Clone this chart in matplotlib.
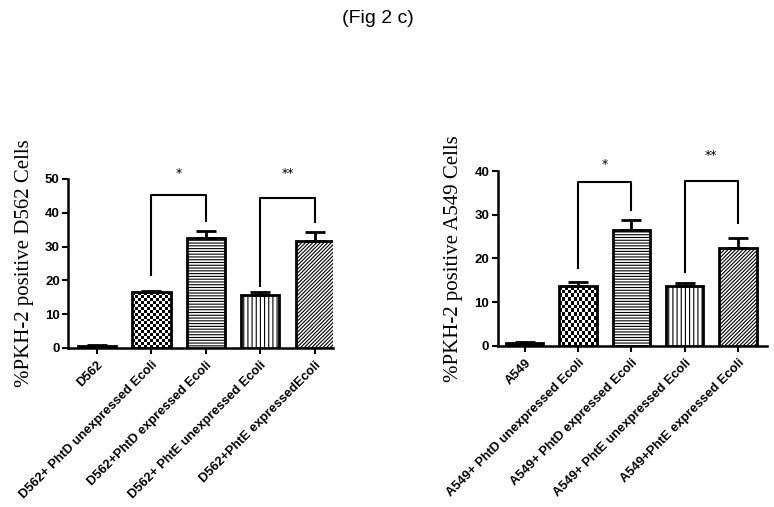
import numpy as np
import matplotlib
matplotlib.use("Agg")
import matplotlib.pyplot as plt

# data
d562_labels = ["D562", "D562+ PhtD unexpressed Ecoli", "D562+PhtD expressed Ecoli",
               "D562+ PhtE unexpressed Ecoli", "D562+PhtE expressedEcoli"]
d562_means = [0.5, 16.4, 32.4, 15.5, 31.7]
d562_err = [0.3, 0.5, 2.1, 1.0, 2.7]

a549_labels = ["A549", "A549+ PhtD unexpressed Ecoli", "A549+ PhtD expressed Ecoli",
               "A549+ PhtE unexpressed Ecoli", "A549+PhtE expressed Ecoli"]
a549_means = [0.7, 13.7, 26.5, 13.7, 22.3]
a549_err = [0.2, 0.8, 2.3, 0.7, 2.3]

# significance brackets: (left bar, right bar, left leg bottom, top, right leg bottom, text, text y)
d562_sig = [(1, 2, 21.6, 45.3, 37.7, "*", 51.5), (3, 4, 18.4, 44.3, 37.4, "**", 51.5)]
a549_sig = [(1, 2, 17.8, 37.5, 31.1, "*", 41.5), (3, 4, 16.9, 37.7, 28.0, "**", 43.5)]

hatches = [None, "checker", "------", "||||", "/////////"]

plt.rcParams['hatch.linewidth'] = 0.8

fig = plt.figure(figsize=(7.74, 5.07), dpi=100)
fig.text(0.488, 0.963, "(Fig 2 c)", ha="center", va="center", fontsize=14,
         family="Liberation Sans")


def checker_fill(ax, bar):
    x0, y0 = bar.get_x(), bar.get_y()
    w, h = bar.get_width(), bar.get_height()
    cols = 13
    rows = max(1, int(round(h * 3.37 / 2.9)))
    grid = (np.indices((rows, cols)).sum(axis=0) % 2).astype(float)
    im = ax.imshow(grid, cmap="gray", extent=(x0, x0 + w, y0, y0 + h),
                   aspect="auto", interpolation="nearest", zorder=2)
    im.set_clip_path(bar)


def draw_panel(ax, labels, means, err, sig, ymax, ystep, ylabel, xlim):
    x = np.arange(len(labels))
    bars = ax.bar(x, means, width=0.7, color="white", edgecolor="black",
                  linewidth=2, zorder=3)
    bars[0].set_facecolor("black")
    for b, h in zip(bars, hatches):
        if h == "checker":
            b.set_facecolor("none")
            checker_fill(ax, b)
        elif h:
            b.set_hatch(h)
    ax.errorbar(x, means, yerr=[np.zeros(len(err)), err], fmt="none",
                ecolor="black", elinewidth=2, capsize=7, capthick=2, zorder=4)
    for i, j, lb, top, rb, txt, ty in sig:
        ax.plot([x[i], x[i], x[j], x[j]], [lb, top, top, rb], color="black",
                lw=1.5, clip_on=False, zorder=5)
        ax.text((x[i] + x[j]) / 2, ty, txt, ha="center", va="center",
                fontsize=9, clip_on=False)
    ax.set_ylim(0, ymax)
    ax.set_xlim(*xlim)
    ax.set_yticks(np.arange(0, ymax + 1, ystep))
    ax.set_xticks(x)
    ax.set_xticklabels(labels, rotation=45, ha="right", rotation_mode="anchor",
                       fontsize=9.3, fontweight="bold", family="Liberation Sans")
    for t in ax.get_yticklabels():
        t.set_fontweight("bold")
        t.set_family("Liberation Sans")
        t.set_fontsize(9.5)
    ax.spines["top"].set_visible(False)
    ax.spines["right"].set_visible(False)
    ax.spines["left"].set_linewidth(1.8)
    ax.spines["bottom"].set_linewidth(1.8)
    ax.tick_params(width=1.5, length=4, pad=2)
    ax.tick_params(axis="x", pad=4)
    ax.set_ylabel(ylabel, family="Liberation Serif", fontsize=15, labelpad=8)


ax1 = fig.add_axes([0.088, 0.314, 0.342, 0.333])
draw_panel(ax1, d562_labels, d562_means, d562_err, d562_sig, 50, 10,
           "%PKH-2 positive D562 Cells", (-0.53, 4.33))

ax2 = fig.add_axes([0.643, 0.318, 0.3475, 0.3446])
draw_panel(ax2, a549_labels, a549_means, a549_err, a549_sig, 40, 10,
           "%PKH-2 positive A549 Cells", (-0.51, 4.54))

fig.savefig("out.png", dpi=100)
